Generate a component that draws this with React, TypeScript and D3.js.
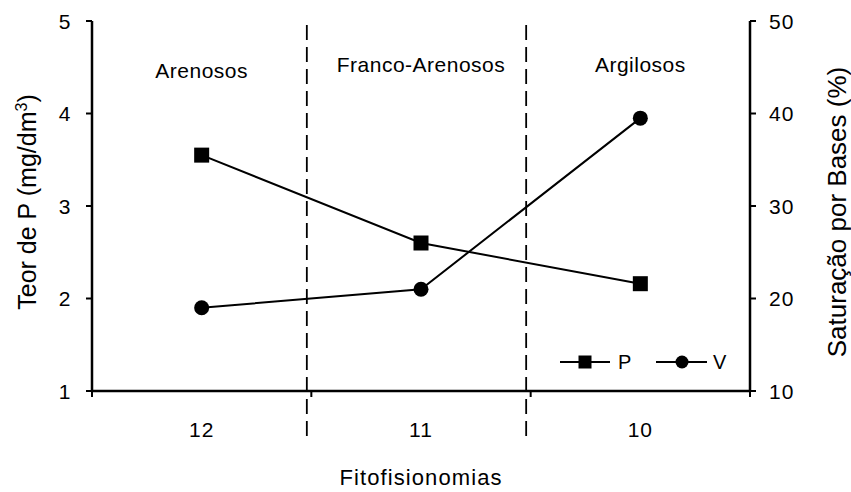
import React from "react";
import * as d3 from "d3";

// Fitofisionomias along the x axis, one soil class per group
const categories = ["12", "11", "10"];
const soilClasses = ["Arenosos", "Franco-Arenosos", "Argilosos"];
// Phosphorus content (mg/dm³), left axis
const pValues = [3.55, 2.6, 2.16];
// Base saturation (%), right axis
const vValues = [19, 21, 39.5];
const leftTicks = [1, 2, 3, 4, 5];
const rightTicks = [10, 20, 30, 40, 50];

const W = 851;
const H = 492;
const M = { left: 92, right: 101, top: 21, bottom: 101 };
const FONT = "'Liberation Sans', Arial, sans-serif";

export default function App() {
  const x0 = M.left;
  const x1 = W - M.right;
  const y0 = H - M.bottom;
  const y1 = M.top;

  const x = d3.scaleBand<string>().domain(categories).range([x0, x1]).padding(0);
  const yL = d3.scaleLinear().domain([1, 5]).range([y0, y1]);
  const yR = d3.scaleLinear().domain([10, 50]).range([y0, y1]);
  const cx = (c: string) => (x(c) as number) + x.bandwidth() / 2;

  const lineP = d3
    .line<number>()
    .x((_, i) => cx(categories[i]))
    .y((d) => yL(d));
  const lineV = d3
    .line<number>()
    .x((_, i) => cx(categories[i]))
    .y((d) => yR(d));

  const boundaries = [x0, ...categories.slice(1).map((c) => x(c) as number), x1];
  const dividers = categories.slice(1).map((c) => (x(c) as number) - 4.5);

  const sq = 15;
  const r = 7.5;
  const legendY = 362;
  const labelY = [78, 72, 72];

  return (
    <svg width={W} height={H} style={{ position: "absolute", left: 0, top: 0, background: "#fff" }} fontFamily={FONT}>
      {/* dashed dividers between soil classes */}
      {dividers.map((dx, i) => (
        <line key={i} x1={dx} x2={dx} y1={25} y2={438} stroke="#000" strokeWidth={1.8} strokeDasharray="15,7" />
      ))}

      {/* soil class labels */}
      {soilClasses.map((s, i) => (
        <text key={s} x={cx(categories[i])} y={labelY[i]} textAnchor="middle" fontSize={21} letterSpacing={0.5}>
          {s}
        </text>
      ))}

      {/* axes */}
      <line x1={x0} x2={x0} y1={y1} y2={y0} stroke="#000" strokeWidth={2.5} />
      <line x1={x1} x2={x1} y1={y1} y2={y0} stroke="#000" strokeWidth={2.5} />
      <line x1={x0} x2={x1} y1={y0} y2={y0} stroke="#000" strokeWidth={2.5} />

      {leftTicks.map((t) => (
        <g key={t}>
          <line x1={x0 - 6} x2={x0} y1={yL(t)} y2={yL(t)} stroke="#000" strokeWidth={2} />
          <text x={x0 - 21} y={yL(t)} dy="0.36em" textAnchor="end" fontSize={21} letterSpacing={0.5}>
            {t}
          </text>
        </g>
      ))}
      {rightTicks.map((t) => (
        <g key={t}>
          <line x1={x1} x2={x1 + 6} y1={yR(t)} y2={yR(t)} stroke="#000" strokeWidth={2} />
          <text x={x1 + 19} y={yR(t)} dy="0.36em" textAnchor="start" fontSize={21} letterSpacing={1}>
            {t}
          </text>
        </g>
      ))}
      {boundaries.map((b, i) => (
        <line key={i} x1={b} x2={b} y1={y0} y2={y0 + 6} stroke="#000" strokeWidth={2} />
      ))}
      {categories.map((c) => (
        <text key={c} x={cx(c)} y={437} textAnchor="middle" fontSize={21} letterSpacing={1}>
          {c}
        </text>
      ))}

      {/* axis titles */}
      <text x={421} y={485} textAnchor="middle" fontSize={22} letterSpacing={1.1}>
        Fitofisionomias
      </text>
      <text transform={`translate(36, 202) rotate(-90)`} textAnchor="middle" fontSize={25}>
        Teor de P (mg/dm<tspan dy={-9} fontSize={16}>3</tspan>
        <tspan dy={9}>)</tspan>
      </text>
      <text transform={`translate(846, 212) rotate(-90)`} textAnchor="middle" fontSize={26}>
        Saturação por Bases  (%)
      </text>

      {/* series */}
      <path d={lineP(pValues) ?? ""} fill="none" stroke="#000" strokeWidth={2} />
      <path d={lineV(vValues) ?? ""} fill="none" stroke="#000" strokeWidth={2} />
      {pValues.map((v, i) => (
        <rect key={i} x={cx(categories[i]) - sq / 2} y={yL(v) - sq / 2} width={sq} height={sq} fill="#000" />
      ))}
      {vValues.map((v, i) => (
        <circle key={i} cx={cx(categories[i])} cy={yR(v)} r={r} fill="#000" />
      ))}

      {/* legend */}
      <g>
        <line x1={560} x2={610} y1={legendY} y2={legendY} stroke="#000" strokeWidth={2} />
        <rect x={585 - 6.5} y={legendY - 6.5} width={13} height={13} fill="#000" />
        <text x={618} y={legendY} dy="0.36em" fontSize={20}>P</text>
        <line x1={656} x2={707} y1={legendY} y2={legendY} stroke="#000" strokeWidth={2} />
        <circle cx={682} cy={legendY} r={6.5} fill="#000" />
        <text x={713} y={legendY} dy="0.36em" fontSize={20}>V</text>
      </g>
    </svg>
  );
}
